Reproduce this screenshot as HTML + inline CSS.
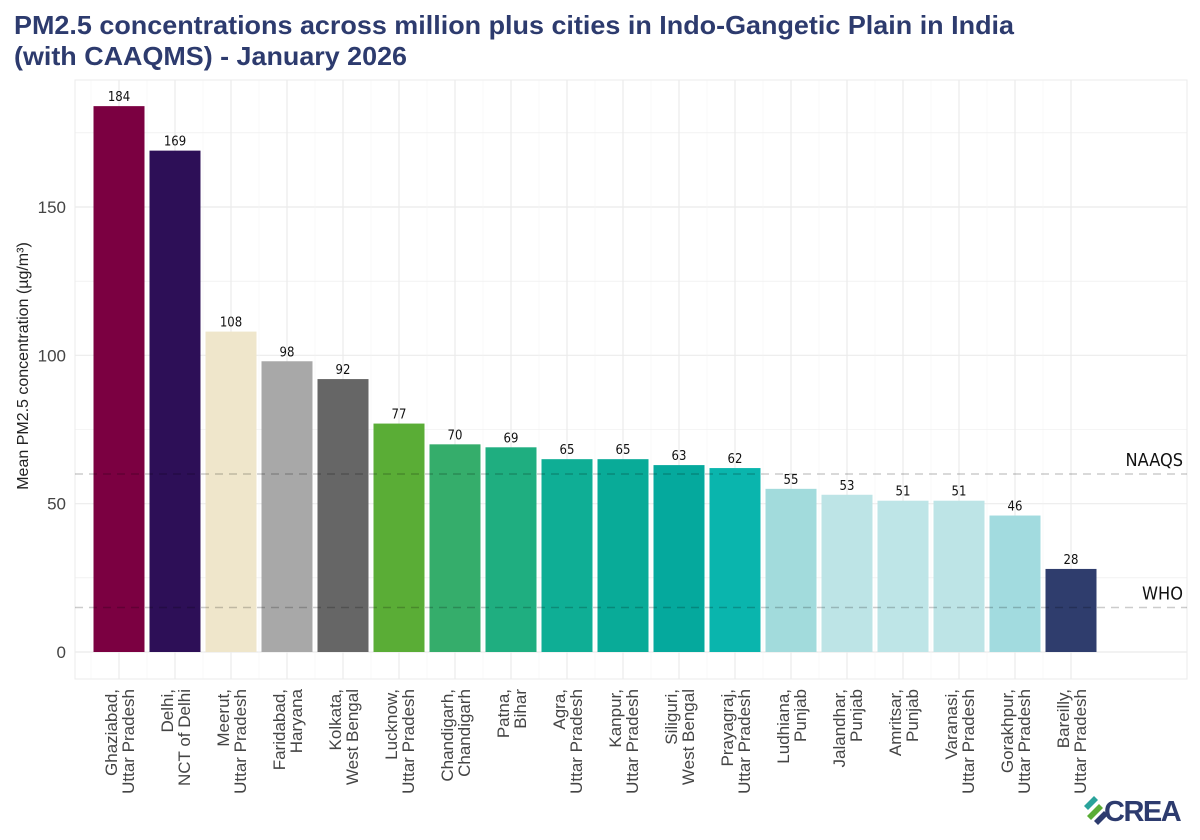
<!DOCTYPE html>
<html><head><meta charset="utf-8"><style>
html,body{margin:0;padding:0;background:#fff;width:1200px;height:840px;overflow:hidden;font-family:"Liberation Sans",sans-serif}
</style></head><body>
<svg id="chart" width="1200" height="840" xmlns="http://www.w3.org/2000/svg">
<text x="14" y="34" font-size="26" font-weight="bold" fill="#2d3b6e" textLength="1000" lengthAdjust="spacingAndGlyphs">PM2.5 concentrations across million plus cities in Indo-Gangetic Plain in India</text>
<text x="14" y="65" font-size="26" font-weight="bold" fill="#2d3b6e" textLength="393" lengthAdjust="spacingAndGlyphs">(with CAAQMS) - January 2026</text>
<rect x="75" y="80" width="1112" height="599" fill="none" stroke="#ebebeb"/>
<g id="grid"></g><g id="bars"></g><g id="refs"></g><g id="axes"></g>
<text transform="translate(28,366) rotate(-90)" text-anchor="middle" font-size="16" fill="#222">Mean PM2.5 concentration (µg/m³)</text>
<g>
<path d="M1084 806 l10 -10 l4 4 l-10 10z" fill="#2aa39b"/><path d="M1087 816 l12 -12 l4 4 l-12 12z" fill="#5aad36"/><path d="M1094 821 l10 -10 l4 4 l-10 10z" fill="#2d3b6e"/>
<text x="1104" y="821" font-size="29" font-weight="bold" fill="#2d3b6e" letter-spacing="-1.5">CREA</text>
</g>
</svg>
<script>
const cities=["Ghaziabad,","Delhi,","Meerut,","Faridabad,","Kolkata,","Lucknow,","Chandigarh,","Patna,","Agra,","Kanpur,","Siliguri,","Prayagraj,","Ludhiana,","Jalandhar,","Amritsar,","Varanasi,","Gorakhpur,","Bareilly,"];
const states=["Uttar Pradesh","NCT of Delhi","Uttar Pradesh","Haryana","West Bengal","Uttar Pradesh","Chandigarh","Bihar","Uttar Pradesh","Uttar Pradesh","West Bengal","Uttar Pradesh","Punjab","Punjab","Punjab","Uttar Pradesh","Uttar Pradesh","Uttar Pradesh"];
const values=[184,169,108,98,92,77,70,69,65,65,63,62,55,53,51,51,46,28];
const colors=["#7b0041","#2d0f57","#efe6cb","#a8a8a8","#666666","#5aad36","#35ad6b","#1fae80","#0fae95","#09ab98","#05a99d","#0ab5ad","#a2dbdc","#bde4e6","#bee5e7","#bde4e6","#a2dbdf","#2f3d6d"];
const yTicks=[0,50,100,150];
const refNames=["NAAQS","WHO"];
const refValues=[60,15];
const NS="http://www.w3.org/2000/svg";
const y=v=>652-v*(445/150);
const x=i=>119+i*56;
const bw=51;
function mk(t,a,p){const e=document.createElementNS(NS,t);for(const k in a)e.setAttribute(k,a[k]);p.appendChild(e);return e;}
const grid=document.getElementById('grid'),bars=document.getElementById('bars'),refs=document.getElementById('refs'),axes=document.getElementById('axes');
for(let v=0;v<=175;v+=25){const l=mk('line',{x1:75,x2:1187,y1:y(v),y2:y(v),stroke:'#ebebeb','stroke-width':v%50==0?1.2:0.6},grid);

}
for(let i=0;i<values.length;i++){const l=mk('line',{x1:x(i),x2:x(i),y1:80,y2:679,stroke:'#ebebeb','stroke-width':1.2},grid);


const m=mk('line',{x1:x(i)-28,x2:x(i)-28,y1:80,y2:679,stroke:'#f3f3f3','stroke-width':0.6},grid);

}
yTicks.forEach(v=>{const t=mk('text',{x:66,y:y(v)+6,'text-anchor':'end','font-size':17,fill:'#444'},axes);t.textContent=v;

});
values.forEach((v,i)=>{const r=mk('rect',{x:x(i)-bw/2,y:y(v),width:bw,height:y(0)-y(v),fill:colors[i]},bars);


const t=mk('text',{x:x(i),y:y(v)-5,'text-anchor':'middle','font-size':13,fill:'#111','font-family':'DejaVu Sans Condensed, DejaVu Sans, sans-serif'},bars);t.textContent=v;


const g=mk('g',{transform:`translate(${x(i)},689) rotate(-90)`},axes);


const a=mk('text',{x:0,y:-2,'text-anchor':'end','font-size':17,fill:'#444'},g);a.textContent=cities[i];
const b=mk('text',{x:0,y:15,'text-anchor':'end','font-size':17,fill:'#444'},g);b.textContent=states[i];});
refValues.forEach((v,i)=>{const l=mk('line',{x1:75,x2:1187,y1:y(v),y2:y(v),stroke:'#000','stroke-opacity':0.2,'stroke-width':1.5,'stroke-dasharray':'8,6'},refs);


const t=mk('text',{x:1183,y:y(v)-8,'text-anchor':'end','font-size':18,fill:'#111','font-family':'DejaVu Sans Condensed, DejaVu Sans, sans-serif'},refs);t.textContent=refNames[i];

});
</script>
</body></html>
